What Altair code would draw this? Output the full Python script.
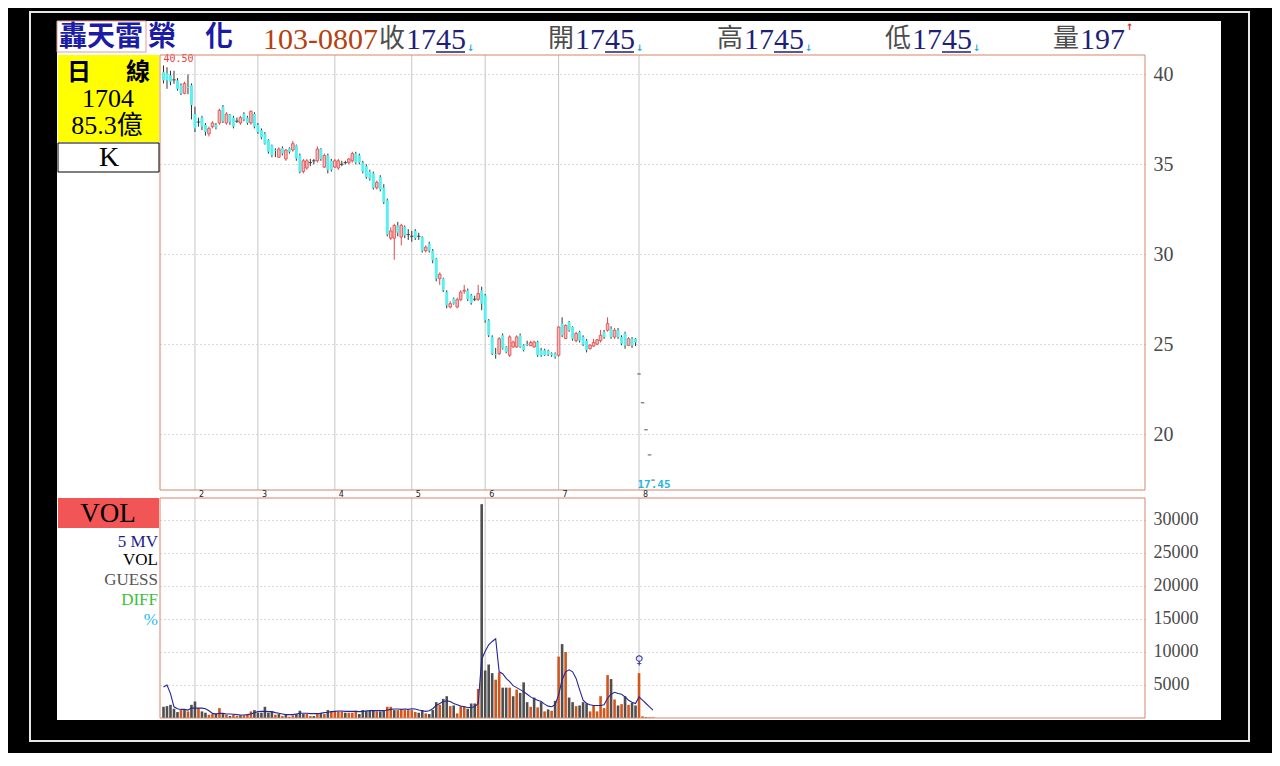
import altair as alt
import pandas as pd

# ---------------- data ----------------
day_index = list(range(141))
open_px = [40.13, 40.05, 39.95, 39.7, 39.67, 39.4, 38.95, 39.3, 39.4, 37.8,
           37.35, 37.6, 37.2, 36.7, 37.1, 37.2, 37.3, 38.2, 37.3, 37.75,
           37.6, 37.4, 37.3, 37.8, 37.6, 37.3, 37.8, 37.2, 36.9, 36.7,
           36.35, 36.06, 35.8, 35.4, 35.9, 35.3, 35.9, 35.8, 36.06, 35.5,
           34.6, 34.8, 35.1, 35.2, 35.2, 35.85, 34.85, 35.5, 35.2, 34.85,
           34.8, 35.0, 35.1, 35.1, 35.2, 35.6, 35.5, 35.1, 34.9, 34.6,
           34.5, 33.7, 34.3, 33.7, 33.0, 30.9, 30.9, 31.6, 30.96, 31.52,
           31.1, 31.0, 31.3, 31.0, 30.96, 30.2, 30.6, 30.2, 29.76, 28.65,
           28.65, 27.9, 27.07, 27.54, 27.07, 27.48, 27.95, 28.0, 27.72, 27.5,
           27.5, 28.0, 27.72, 26.33, 25.4, 24.45, 24.48, 25.5, 24.85, 24.39,
           24.85, 24.85, 25.5, 24.94, 25.0, 24.92, 24.85, 25.13, 24.67, 24.67,
           24.63, 24.5, 24.48, 24.39, 26.15, 25.32, 26.24, 25.96, 25.2, 25.68,
           25.4, 25.2, 24.76, 24.9, 25.0, 25.2, 25.68, 25.78, 25.87, 25.4,
           25.78, 25.4, 25.6, 24.94, 25.31, 25.31, 23.35, 21.75, 20.25, 18.85,
           17.45]
high_px = [40.5, 40.4, 40.2, 40.2, 39.8, 39.5, 39.6, 40.0, 39.5, 38.2,
           37.6, 37.7, 37.3, 37.1, 37.4, 37.3, 38.1, 38.3, 37.9, 37.8,
           37.7, 37.6, 37.7, 37.9, 37.7, 38.0, 37.9, 37.3, 37.0, 36.8,
           36.4, 36.1, 35.9, 35.95, 36.0, 35.85, 35.95, 36.3, 36.1, 35.6,
           35.3, 35.3, 35.3, 35.3, 36.0, 35.9, 35.6, 35.6, 35.3, 35.3,
           35.3, 35.2, 35.2, 35.35, 35.7, 35.7, 35.6, 35.2, 35.0, 34.7,
           34.6, 34.1, 34.4, 33.9, 33.1, 31.5, 31.7, 31.8, 31.7, 31.6,
           31.4, 31.3, 31.4, 31.2, 31.0, 30.5, 30.7, 30.3, 29.8, 29.0,
           28.7, 28.0, 27.4, 27.6, 27.6, 28.0, 28.3, 28.1, 27.8, 27.7,
           28.3, 28.2, 27.8, 26.4, 25.5, 24.8, 25.4, 25.6, 24.9, 25.5,
           25.2, 25.5, 25.6, 25.0, 25.2, 25.2, 25.2, 25.2, 24.8, 24.75,
           24.7, 24.55, 24.55, 26.0, 26.5, 26.1, 26.3, 26.0, 25.7, 25.75,
           25.5, 25.3, 25.0, 25.3, 25.3, 25.8, 25.8, 26.5, 26.0, 25.9,
           25.9, 25.5, 25.7, 25.4, 25.4, 25.35, 23.35, 21.75, 20.25, 18.85,
           17.45]
low_px = [39.5, 39.2, 39.4, 39.48, 39.1, 38.85, 38.9, 38.9, 37.5, 36.8,
          37.1, 36.9, 36.6, 36.55, 37.0, 36.95, 37.2, 37.3, 37.2, 37.2,
          37.0, 37.3, 37.2, 37.4, 37.2, 37.2, 37.0, 36.7, 36.4, 36.1,
          35.6, 35.4, 35.4, 35.35, 35.5, 35.2, 35.6, 35.7, 35.2, 34.5,
          34.5, 34.7, 34.9, 35.0, 35.1, 35.2, 34.8, 34.5, 34.6, 34.8,
          34.7, 34.9, 35.0, 35.0, 35.1, 35.0, 35.0, 34.5, 34.2, 34.1,
          33.6, 33.6, 33.5, 32.8, 31.0, 30.8, 29.7, 31.0, 30.5, 30.9,
          30.8, 30.7, 30.8, 30.8, 30.1, 30.1, 30.1, 29.5, 28.5, 28.3,
          27.9, 27.0, 27.0, 27.2, 27.0, 27.4, 27.8, 27.4, 27.2, 27.4,
          27.4, 26.9, 26.2, 25.4, 24.4, 24.2, 24.4, 24.7, 24.5, 24.3,
          24.8, 24.8, 24.8, 24.6, 24.9, 24.9, 24.8, 24.3, 24.3, 24.35,
          24.35, 24.3, 24.2, 24.3, 25.4, 25.3, 25.7, 25.2, 25.1, 25.1,
          24.9, 24.55, 24.7, 24.85, 24.95, 25.1, 25.3, 25.7, 25.3, 25.3,
          25.3, 24.95, 24.75, 24.9, 24.8, 24.9, 23.35, 21.75, 20.25, 18.85,
          17.45]
close_px = [39.67, 39.67, 39.6, 39.7, 39.2, 38.95, 39.5, 39.25, 38.3, 37.0,
            37.35, 37.1, 36.8, 37.0, 37.3, 37.05, 38.0, 37.4, 37.8, 37.35,
            37.1, 37.4, 37.6, 37.5, 37.3, 37.95, 37.1, 36.8, 36.5, 36.15,
            35.7, 35.5, 35.75, 35.85, 35.6, 35.8, 35.7, 36.15, 35.32, 34.6,
            35.2, 35.2, 35.1, 35.2, 35.85, 35.3, 35.5, 34.7, 34.7, 35.2,
            35.2, 35.0, 35.1, 35.3, 35.6, 35.1, 35.1, 34.6, 34.3, 34.2,
            33.7, 34.0, 33.6, 32.9, 31.1, 31.3, 31.6, 31.2, 31.61, 31.05,
            31.1, 31.0, 30.9, 31.0, 30.2, 30.4, 30.2, 29.67, 28.65, 28.9,
            28.0, 27.17, 27.26, 27.26, 27.48, 27.9, 28.0, 27.5, 27.3, 27.5,
            27.82, 27.26, 26.33, 25.5, 24.48, 24.4, 25.31, 24.76, 24.57, 25.41,
            25.13, 25.41, 24.85, 24.67, 24.95, 25.1, 25.13, 24.39, 24.39, 24.39,
            24.44, 24.39, 24.3, 25.96, 25.5, 26.05, 25.78, 25.3, 25.6, 25.2,
            25.0, 24.67, 24.96, 25.1, 25.25, 25.5, 25.4, 26.15, 25.4, 25.78,
            25.4, 25.04, 24.94, 25.31, 24.94, 25.1, 23.35, 21.75, 20.25, 18.85,
            17.45]
volume = [1700, 1800, 2000, 1400, 900, 1200, 1200, 1000, 2000, 2500,
          1500, 1000, 800, 500, 600, 700, 1500, 600, 500, 300,
          500, 300, 400, 400, 500, 1000, 1200, 800, 800, 1700,
          800, 1000, 500, 600, 300, 600, 200, 400, 600, 1100,
          600, 600, 300, 300, 600, 800, 600, 1200, 1000, 1000,
          1000, 1000, 800, 800, 800, 1100, 600, 1200, 1100, 1100,
          1200, 1000, 1000, 1100, 1700, 1700, 1200, 1200, 1300, 1200,
          1200,
          1200, 900, 800, 1200, 700, 600, 1200, 2400, 2000, 2900,
          3300, 1800, 1900, 700, 1700, 1800, 1400, 2200, 2200, 4400,
          32400,
          7200, 8100, 6800, 5800, 6900, 4600, 4600, 4600, 3300, 4300,
          3800, 5400, 2400, 1700, 3100, 1600, 2400, 1000, 1300, 1100,
          2600, 9300, 11200, 10000, 3100, 2400, 1800, 1900, 2400, 2200,
          1000, 1900, 1000, 3300, 1500, 6500, 5900, 2800, 1900, 2100,
          3300, 2000, 2300, 1900, 6800, 250, 150, 100, 100]
volume_side = list("gggggogogg" "oggoogogog" "oogooogggg" "ggogogoogg"
                   "googogogoo" "oogooogggg" "goggoogooo" "o"
                   "ooggogggog" "gogooogggo" "g"
                   "gggooggogo" "gggogogogo" "gogoggoggg" "oooooogogo"
                   "goggooooo")
mv5 = [4700, 5000, 3700, 1700, 1400, 1300, 1300, 1200, 1500, 1500,
       1500, 1500, 1400, 1100, 700, 600, 700, 700, 600, 600,
       560, 510, 450, 450, 510, 610, 810, 960, 1010, 1010,
       960, 960, 810, 710, 610, 510, 510, 510, 610, 710,
       710, 710, 660, 660, 660, 710, 810, 860, 960, 1010,
       1060, 1060, 1010, 1010, 1010, 1010, 960, 1010, 1060, 1110,
       1110, 1110, 1110, 1110, 1210, 1310, 1360, 1360, 1310, 1360,
       1310, 1400, 1360, 1200, 1100, 1000, 1100, 1400, 1900, 2200,
       2500, 2600, 2500, 2200, 2000, 1800, 1700, 1600, 1600, 1700,
       2200, 8900, 10100, 11100, 11600, 12000, 7000, 6700, 6000, 5500,
       4900, 4600, 4300, 4000, 3600, 3200, 2900, 2700, 2500, 2100,
       1800, 1700, 2000, 3500, 5800, 7000, 7300, 7000, 6000, 4300,
       2700, 2200, 2000, 1900, 1900, 1900, 2000, 3000, 3600, 3900,
       3700, 3600, 3200, 2700, 2400, 2200, 3200, 2700, 2200, 1700,
       1200]
month_start = [9, 27, 49, 71, 92, 113, 136]
month_label = ["2", "3", "4", "5", "6", "7", "8"]
price_ticks = [20, 25, 30, 35, 40]
volume_ticks = [5000, 10000, 15000, 20000, 25000, 30000]
marker_day = [136]

df = pd.DataFrame(dict(i=day_index, open=open_px, high=high_px, low=low_px,
                       close=close_px, vol=volume, side=volume_side, mv=mv5))
months = pd.DataFrame(dict(i=month_start, label=month_label))
one = pd.DataFrame({"k": [0]})

SERIF = "Liberation Serif, Noto Sans CJK TC"
CJK = "Noto Sans CJK TC"
W, H1, H2 = 985, 435, 220
BORDER = "#d8846a"

xs = alt.Scale(domain=[-1, 280.7], nice=False, zero=False, padding=0)
ys = alt.Scale(domain=[16.9, 41.08], nice=False, zero=False, padding=0)
vs = alt.Scale(domain=[0, 33333], nice=False, zero=False, padding=0)

price_axis = alt.Axis(orient="right", values=price_ticks, grid=True, gridColor="#b5b5b5",
                      gridDash=[1, 3], domain=False, ticks=False, labelPadding=8,
                      labelFont="Liberation Serif", labelFontSize=20, labelColor="#4a4a4a", title=None)
vol_axis = alt.Axis(orient="right", values=volume_ticks, format="d", grid=True, gridColor="#b5b5b5",
                    gridDash=[1, 3], domain=False, ticks=False, labelPadding=8,
                    labelFont="Liberation Serif", labelFontSize=18, labelColor="#4a4a4a", title=None)

X = alt.X("i:Q", scale=xs, axis=None)


def px_rect(x, x2, y, y2, **kw):
    return alt.Chart(one).mark_rect(**kw).encode(
        x=alt.value(x), x2=alt.value(x2), y=alt.value(y), y2=alt.value(y2))


def label(txt, x, y, size, color, font=SERIF, align="left", baseline="alphabetic", weight="normal"):
    return alt.Chart(one).mark_text(text=txt, align=align, baseline=baseline, fontSize=size,
                                    color=color, font=font, fontWeight=weight).encode(
        x=alt.value(x), y=alt.value(y))


def hline(x, x2, y, color, w=1.0):
    return alt.Chart(one).mark_rule(color=color, strokeWidth=w).encode(
        x=alt.value(x), x2=alt.value(x2), y=alt.value(y))


# ---------------- price panel ----------------
base = alt.Chart(df).transform_calculate(
    dir="datum.close > datum.open ? 'up' : (datum.close < datum.open ? 'down' : 'flat')")

layers = [
    # black surround and white frame
    px_rect(-152, -103, -47, 698, color="black"),
    px_rect(1061, 1112, -47, 698, color="black"),
    px_rect(-152, 1112, -47, -34, color="black"),
    px_rect(-152, 1112, 665, 698, color="black"),
    px_rect(-130, 1089, -43, 686, fillOpacity=0, stroke="#e6e6e6", strokeWidth=2),
]

# month separators
layers.append(alt.Chart(months).mark_rule(color="#c6c6c6", strokeWidth=1).encode(x=X))

# wicks
layers.append(base.mark_rule(strokeWidth=1).encode(
    x=X, y=alt.Y("low:Q", scale=ys, axis=price_axis), y2="high:Q",
    color=alt.Color("dir:N", scale=alt.Scale(domain=["up", "down", "flat"],
                                             range=["#e04848", "#333333", "#333333"]), legend=None)))
# bodies
layers.append(base.transform_filter("datum.dir == 'down'").mark_bar(size=3, color="#5cefef").encode(
    x=X, y=alt.Y("open:Q", scale=ys, axis=price_axis), y2="close:Q"))
layers.append(base.transform_filter("datum.dir == 'up'").mark_bar(
    size=2.6, fill="#f7baba", stroke="#e04848", strokeWidth=0.8).encode(
    x=X, y=alt.Y("open:Q", scale=ys, axis=price_axis), y2="close:Q"))
layers.append(base.transform_filter("datum.dir == 'flat'").mark_tick(
    orient="horizontal", size=3.5, thickness=1.2, color="#333333").encode(
    x=X, y=alt.Y("close:Q", scale=ys, axis=price_axis)))

# max / min annotations
layers.append(alt.Chart(df).transform_joinaggregate(mx="max(high)").transform_filter(
    "datum.high == datum.mx").mark_text(align="left", baseline="middle", dx=0, dy=-6,
                                        font="DejaVu Sans Mono", fontSize=10, color="#e84040").encode(
    x=X, y=alt.Y("high:Q", scale=ys, axis=price_axis), text=alt.Text("high:Q", format=".2f")))
layers.append(alt.Chart(df).transform_joinaggregate(mn="min(low)").transform_filter(
    "datum.low == datum.mn").mark_text(align="center", baseline="middle", dx=1, dy=5,
                                       font="DejaVu Sans Mono", fontSize=11, fontWeight="bold",
                                       color="#1fb8e0").encode(
    x=X, y=alt.Y("low:Q", scale=ys, axis=price_axis), text=alt.Text("low:Q", format=".2f")))

# panel border
layers.append(px_rect(0, W, 0, H1, fillOpacity=0, stroke=BORDER, strokeWidth=1))

# month labels between the panels
layers.append(alt.Chart(months).mark_text(align="left", baseline="top", dx=4, fontSize=8,
                                          color="#222222", font="DejaVu Sans").encode(
    x=X, y=alt.value(H1 + 1), text="label:N"))

# header
NAVY = "#1f1f7a"
GRAY = "#4d4d4d"
ARROW = "#1ea7e0"
layers += [
    px_rect(-103, -14, -34, -3, fillOpacity=0, stroke="#e89a9a", strokeWidth=1),
    label("轟天雷", -101, -9, 28, "#1b1ba6", font=CJK, weight="bold"),
    label("榮", -12, -9, 28, "#1b1ba6", font=CJK, weight="bold"),
    label("化", 45, -9, 28, "#1b1ba6", font=CJK, weight="bold"),
    label("103-0807", 103, -6, 30, "#b4410f"),
]
for cjk, xc in [("收", 219), ("開", 388), ("高", 557), ("低", 725)]:
    layers += [
        label(cjk, xc, -8, 26, GRAY, font=CJK),
        label("1745", xc + 27, -6, 30, NAVY),
        hline(xc + 57, xc + 86, -3, NAVY, 1.5),
        label("↓", xc + 88, -4, 9, ARROW, font="DejaVu Sans", weight="bold"),
    ]
layers += [
    label("量", 893, -8, 26, GRAY, font=CJK),
    label("197", 920, -6, 30, NAVY),
    label("↑", 966, -25, 9, "#e02020", font="DejaVu Sans", weight="bold"),
]

# left info boxes
layers += [
    px_rect(-102, -1, 0, 87, color="#ffff00"),
    label("日", -81, 18, 24, "black", font=CJK, align="center", baseline="middle", weight="bold"),
    label("線", -22, 18, 24, "black", font=CJK, align="center", baseline="middle", weight="bold"),
    label("1704", -52, 44, 26, "black", align="center", baseline="middle"),
    label("85.3億", -53, 71, 26, "black", align="center", baseline="middle"),
    px_rect(-102, -1, 88, 117, color="white", stroke="black", strokeWidth=1),
    label("K", -51, 103, 28, "black", align="center", baseline="middle"),
]

price = alt.layer(*layers).properties(width=W, height=H1)

# ---------------- volume panel ----------------
vlayers = [
    alt.Chart(months).mark_rule(color="#c6c6c6", strokeWidth=1).encode(x=X),
    alt.Chart(df).mark_bar(size=2.6).encode(
        x=X, y=alt.Y("vol:Q", scale=vs, axis=vol_axis),
        color=alt.Color("side:N", scale=alt.Scale(domain=["o", "g"], range=["#d0561e", "#4f4f4f"]),
                        legend=None)),
    alt.Chart(df).mark_line(color="#262696", strokeWidth=1.1).encode(
        x=X, y=alt.Y("mv:Q", scale=vs, axis=vol_axis)),
    alt.Chart(df).transform_filter(alt.FieldOneOfPredicate(field="i", oneOf=marker_day)).mark_text(
        text="♀", dy=-13, fontSize=12, color="#3535a5", font="DejaVu Sans").encode(
        x=X, y=alt.Y("vol:Q", scale=vs, axis=vol_axis)),
    px_rect(0, W, 0, H2, fillOpacity=0, stroke=BORDER, strokeWidth=1),
    px_rect(-102, -1, 0, 30, color="#f25555"),
    label("VOL", -52, 16, 27, "black", align="center", baseline="middle"),
    label("5 MV", -2, 44, 17, "#1c1c8c", align="right", baseline="middle"),
    label("VOL", -2, 62, 17, "black", align="right", baseline="middle"),
    label("GUESS", -2, 82, 17, "#555555", align="right", baseline="middle"),
    label("DIFF", -2, 102, 17, "#3cc03c", align="right", baseline="middle"),
    label("%", -2, 122, 17, "#22bbee", align="right", baseline="middle"),
]
vol_chart = alt.layer(*vlayers).properties(width=W, height=H2)

chart = alt.vconcat(price, vol_chart, spacing=8, bounds="flush").resolve_scale(
    x="independent", y="independent", color="independent"
).properties(padding=0, background="white").configure_view(strokeWidth=0)

chart.save("out.html", embed_options={"renderer": "svg", "actions": False})
